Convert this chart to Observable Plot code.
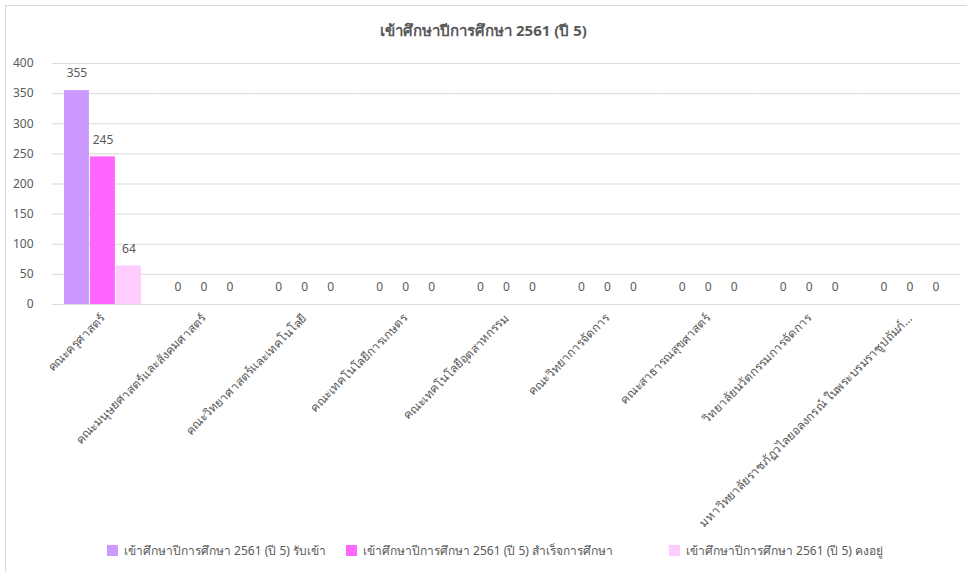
<!DOCTYPE html>
<html>
<head>
<meta charset="utf-8">
<script src="https://cdn.jsdelivr.net/npm/d3@7"></script>
<script src="https://cdn.jsdelivr.net/npm/@observablehq/plot@0.6"></script>
<style>
  html, body { margin: 0; padding: 0; background: #fff; overflow: hidden; }
  body { width: 967px; height: 572px; position: relative; font-family: Tahoma, "Noto Sans", "DejaVu Sans", sans-serif; color: #595959; }
  #frame { position: absolute; left: 5px; top: 5px; width: 1000px; height: 600px; border: 1px solid #d9d9d9; box-sizing: border-box; }
  #title { position: absolute; left: 0; top: 19px; width: 967px; text-align: center; font-size: 15px; font-weight: bold; color: #595959; }
  #chart { position: absolute; left: 0; top: 50px; }
  #legend { position: absolute; left: 0; top: 541px; width: 967px; height: 20px; font-size: 12px; color: #595959; }
  .item { position: absolute; top: 0; display: flex; align-items: center; gap: 6px; white-space: nowrap; }
  .sw { width: 11px; height: 11px; display: inline-block; }
</style>
</head>
<body>
<div id="frame"></div>
<div id="title">เข้าศึกษาปีการศึกษา 2561 (ปี 5)</div>
<div id="chart"></div>
<div id="legend"></div>
<script>
const categories = [
  "คณะครุศาสตร์",
  "คณะมนุษยศาสตร์และสังคมศาสตร์",
  "คณะวิทยาศาสตร์และเทคโนโลยี",
  "คณะเทคโนโลยีการเกษตร",
  "คณะเทคโนโลยีอุตสาหกรรม",
  "คณะวิทยาการจัดการ",
  "คณะสาธารณสุขศาสตร์",
  "วิทยาลัยนวัตกรรมการจัดการ",
  "มหาวิทยาลัยราชภัฏวไลยอลงกรณ์ ในพระบรมราชูปถัมภ์..."
];
const series = [
  "เข้าศึกษาปีการศึกษา 2561 (ปี 5) รับเข้า",
  "เข้าศึกษาปีการศึกษา 2561 (ปี 5) สำเร็จการศึกษา",
  "เข้าศึกษาปีการศึกษา 2561 (ปี 5) คงอยู่"
];
const admitted  = [355, 0, 0, 0, 0, 0, 0, 0, 0];
const graduated = [245, 0, 0, 0, 0, 0, 0, 0, 0];
const remaining = [64, 0, 0, 0, 0, 0, 0, 0, 0];
const colors = ["#CC99FF", "#FF66FF", "#FFCCFF"];
const yTicks = [0, 50, 100, 150, 200, 250, 300, 350, 400];
const legendLeft = [107, 346, 669];

const valuesBySeries = [admitted, graduated, remaining];
const data = [];
categories.forEach((c, i) => {
  series.forEach((s, j) => {
    data.push({category: c, series: s, value: valuesBySeries[j][i]});
  });
});

const chart = Plot.plot({
  width: 967,
  height: 480,
  marginLeft: 52,
  marginRight: 7,
  marginTop: 13,
  marginBottom: 226,
  style: {fontSize: "12px", color: "#595959", fontFamily: "Tahoma, 'Noto Sans', 'DejaVu Sans', sans-serif", background: "transparent"},
  fx: {domain: categories, padding: 0, round: false, label: null, axis: null},
  x: {domain: series, axis: null, paddingInner: 0.04, paddingOuter: 0.46, round: false},
  y: {domain: [0, 400], label: null},
  color: {domain: series, range: colors},
  marks: [
    Plot.ruleY(yTicks, {stroke: "#d9d9d9", strokeWidth: 1}),
    Plot.barY(data, {fx: "category", x: "series", y: "value", fill: "series"}),
    Plot.text(data, {fx: "category", x: "series", y: "value", text: d => String(d.value), dy: -17, fill: "#595959", fontSize: 12}),
    Plot.axisY({ticks: yTicks, tickSize: 0, tickPadding: 19, label: null, fill: "#595959"}),
    Plot.axisFx({anchor: "bottom", tickRotate: -45, tickSize: 0, tickPadding: 12, label: null, fill: "#595959", fontSize: 12})
  ]
});
document.getElementById("chart").appendChild(chart);

const legend = document.getElementById("legend");
series.forEach((s, j) => {
  const item = document.createElement("div");
  item.className = "item";
  item.style.left = legendLeft[j] + "px";
  const sw = document.createElement("span");
  sw.className = "sw";
  sw.style.background = colors[j];
  const t = document.createElement("span");
  t.textContent = s;
  item.appendChild(sw);
  item.appendChild(t);
  legend.appendChild(item);
});
</script>
</body>
</html>
